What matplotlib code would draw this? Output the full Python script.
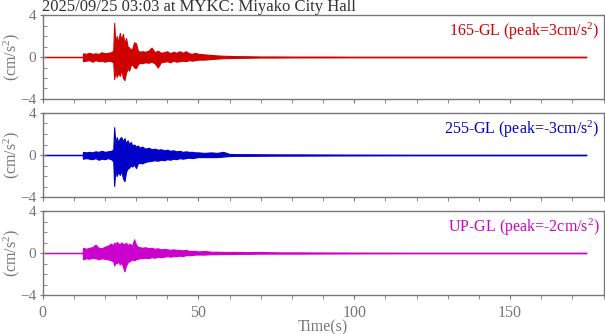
import matplotlib
import matplotlib.pyplot as plt
from matplotlib.ticker import MultipleLocator

matplotlib.use("Agg")

plt.rcParams["font.family"] = ["Liberation Serif", "DejaVu Serif"]
plt.rcParams["mathtext.fontset"] = "custom"
plt.rcParams["mathtext.rm"] = "Liberation Serif"
plt.rcParams["mathtext.it"] = "Liberation Serif:italic"

TITLE = "2025/09/25 03:03 at MYKC: Miyako City Hall"

# envelope of each trace (cm/s^2)
TIME_S = [
    0, 12.9, 13.0, 14, 15, 16, 17, 18, 19, 20,
    21, 22, 22.7, 23.0, 23.4, 23.8, 24.3, 24.8, 25.3, 25.8,
    26.3, 26.8, 27.3, 27.8, 28.3, 28.8, 29.4, 30.0, 30.6, 31.2,
    32, 33, 34, 35, 36, 37, 38, 39, 40, 41,
    42, 43, 44, 45, 46, 47, 48, 49, 50, 52,
    54, 56, 58, 60, 63, 66, 70, 75, 80, 90,
    100, 120, 140, 160, 174.5,
]

NS_UPPER = [
    0.02, 0.02, 0.35, 0.3, 0.4, 0.3, 0.35, 0.3, 0.45, 0.35,
    0.4, 0.45, 0.6, 3.25, 1.2, 2.0, 1.4, 2.3, 1.6, 2.2,
    1.3, 1.8, 1.0, 0.9, 0.7, 0.8, 1.4, 1.3, 0.6, 0.5,
    0.55, 0.5, 0.6, 0.9, 0.45, 0.6, 0.4, 0.45, 0.55, 0.35,
    0.5, 0.4, 0.55, 0.4, 0.55, 0.35, 0.3, 0.4, 0.3, 0.25,
    0.2, 0.15, 0.12, 0.1, 0.08, 0.07, 0.05, 0.05, 0.04, 0.04,
    0.03, 0.03, 0.03, 0.03, 0.03,
]
NS_LOWER = [
    -0.02, -0.02, -0.4, -0.35, -0.3, -0.45, -0.3, -0.4, -0.35, -0.45,
    -0.35, -0.4, -0.5, -2.1, -1.3, -1.9, -1.5, -1.8, -1.2, -2.0,
    -2.2, -1.5, -1.1, -1.3, -0.8, -0.7, -1.0, -1.05, -0.7, -0.55,
    -0.6, -0.5, -0.55, -0.45, -0.6, -1.0, -0.5, -0.45, -0.4, -0.5,
    -0.35, -0.45, -0.4, -0.35, -0.4, -0.3, -0.35, -0.3, -0.25, -0.25,
    -0.2, -0.15, -0.12, -0.1, -0.08, -0.07, -0.05, -0.05, -0.04, -0.04,
    -0.03, -0.03, -0.03, -0.03, -0.03,
]

EW_UPPER = [
    0.02, 0.02, 0.3, 0.25, 0.3, 0.25, 0.35, 0.3, 0.4, 0.3,
    0.35, 0.4, 0.5, 2.65, 1.0, 1.7, 1.2, 1.6, 1.7, 1.3,
    1.6, 1.1, 1.4, 1.0, 1.25, 0.9, 1.0, 0.8, 0.9, 0.7,
    0.8, 0.6, 0.7, 0.55, 0.6, 0.5, 0.55, 0.45, 0.5, 0.4,
    0.45, 0.35, 0.4, 0.3, 0.35, 0.3, 0.3, 0.25, 0.25, 0.2,
    0.25, 0.2, 0.3, 0.1, 0.08, 0.08, 0.07, 0.06, 0.06, 0.05,
    0.04, 0.03, 0.03, 0.03, 0.03,
]
EW_LOWER = [
    -0.02, -0.02, -0.35, -0.3, -0.35, -0.4, -0.3, -0.45, -0.35, -0.4,
    -0.3, -0.4, -0.6, -2.95, -1.4, -2.0, -1.6, -1.9, -1.5, -2.2,
    -2.5, -1.6, -1.3, -1.2, -1.0, -1.1, -0.9, -1.25, -0.8, -0.75,
    -0.8, -0.65, -0.6, -0.55, -0.5, -0.55, -0.45, -0.5, -0.4, -0.45,
    -0.35, -0.4, -0.3, -0.35, -0.3, -0.25, -0.3, -0.25, -0.2, -0.2,
    -0.2, -0.2, -0.15, -0.1, -0.08, -0.08, -0.07, -0.06, -0.06, -0.05,
    -0.04, -0.03, -0.03, -0.03, -0.03,
]

UD_UPPER = [
    0.02, 0.02, 0.5, 0.4, 0.5, 0.55, 0.8, 0.5, 0.45, 0.6,
    0.7, 0.9, 0.7, 1.0, 0.8, 1.05, 0.9, 0.85, 1.0, 0.9,
    0.8, 1.0, 0.7, 0.9, 0.8, 0.75, 1.3, 0.8, 0.6, 0.55,
    0.5, 0.55, 0.45, 0.5, 0.4, 0.45, 0.35, 0.4, 0.35, 0.3,
    0.35, 0.3, 0.3, 0.25, 0.3, 0.2, 0.2, 0.2, 0.15, 0.2,
    0.12, 0.12, 0.1, 0.1, 0.1, 0.08, 0.1, 0.06, 0.06, 0.05,
    0.04, 0.03, 0.03, 0.03, 0.03,
]
UD_LOWER = [
    -0.02, -0.02, -0.6, -0.5, -0.55, -0.45, -0.5, -0.6, -0.5, -0.55,
    -0.6, -0.7, -0.8, -1.2, -0.9, -1.0, -0.8, -1.1, -0.9, -1.3,
    -1.75, -1.2, -0.9, -0.8, -0.7, -0.6, -0.7, -0.6, -0.55, -0.5,
    -0.5, -0.45, -0.5, -0.4, -0.45, -0.35, -0.4, -0.35, -0.3, -0.35,
    -0.3, -0.3, -0.25, -0.3, -0.2, -0.2, -0.2, -0.15, -0.15, -0.15,
    -0.12, -0.12, -0.1, -0.1, -0.08, -0.08, -0.06, -0.06, -0.06, -0.05,
    -0.04, -0.03, -0.03, -0.03, -0.03,
]

LABELS = [
    "165-GL (peak=3cm/s$^2$)",
    "255-GL (peak=-3cm/s$^2$)",
    "UP-GL (peak=-2cm/s$^2$)",
]
COLORS = ["#d00000", "#0000c8", "#cc00cc"]
UPPERS = [NS_UPPER, EW_UPPER, UD_UPPER]
LOWERS = [NS_LOWER, EW_LOWER, UD_LOWER]

GREY = "#777777"
W, H = 605, 334
PANEL_TOPS = [15, 113, 211]
PANEL_H = 84

fig = plt.figure(figsize=(W / 100, H / 100), dpi=100)
fig.patch.set_facecolor("white")

axes = []
for i in range(3):
    top = PANEL_TOPS[i]
    ax = fig.add_axes([42.5 / W, (H - top - PANEL_H) / H, 561 / W, PANEL_H / H])
    axes.append(ax)
    ax.fill_between(TIME_S, LOWERS[i], UPPERS[i], color=COLORS[i], lw=0.8)
    ax.set_xlim(0, 180)
    ax.set_ylim(-4, 4)
    ax.xaxis.set_major_locator(MultipleLocator(50))
    ax.xaxis.set_minor_locator(MultipleLocator(10))
    ax.yaxis.set_major_locator(MultipleLocator(4))
    ax.yaxis.set_minor_locator(MultipleLocator(1))
    ax.tick_params(axis="x", which="both", direction="out", length=3,
                   color=GREY, labelsize=11.5, labelcolor=GREY, pad=4)
    ax.tick_params(axis="y", which="major", direction="inout", length=5,
                   color=GREY, labelsize=11, labelcolor=GREY, pad=2)
    ax.tick_params(axis="y", which="minor", direction="in", length=3, color=GREY)
    for sp in ax.spines.values():
        sp.set_color(GREY)
        sp.set_linewidth(1.0)
    ax.set_ylabel("(cm/s$^2$)", color=GREY, fontsize=11.5)
    ax.yaxis.set_label_coords(-20 / 561, 0.5)
    ax.text(0.993, 0.93, LABELS[i], transform=ax.transAxes, ha="right",
            va="top", color=COLORS[i], fontsize=11.5)
    if i < 2:
        ax.tick_params(axis="x", labelbottom=False)

axes[0].set_title(TITLE, loc="left", fontsize=12, color="#333333", pad=1)
axes[2].set_xlabel("Time(s)", color=GREY, fontsize=11.5, labelpad=-1)

fig.savefig("out.png", dpi=100)
